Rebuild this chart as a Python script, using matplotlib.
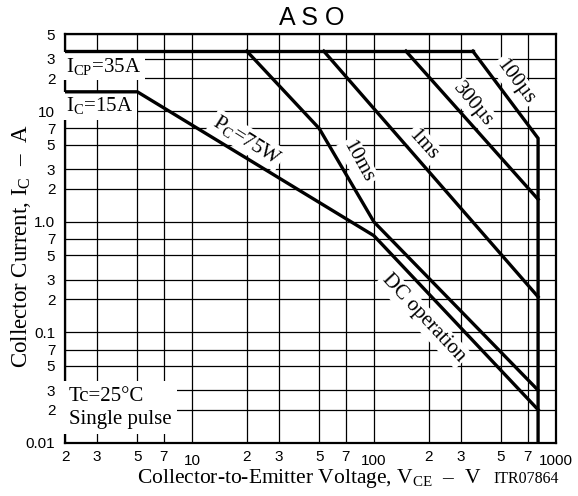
import matplotlib
matplotlib.use('Agg')
import matplotlib.pyplot as plt
from matplotlib.ticker import FixedLocator, NullLocator
from matplotlib.transforms import ScaledTranslation

plt.rcParams['font.family'] = ['Liberation Serif', 'DejaVu Serif']
plt.rcParams['mathtext.fontset'] = 'custom'
plt.rcParams['mathtext.rm'] = 'Liberation Serif'
plt.rcParams['mathtext.it'] = 'Liberation Serif:italic'
plt.rcParams['mathtext.bf'] = 'Liberation Serif:bold'

# ---- data (V in volts, I in amperes) ----
icp_v = [2, 350]
icp_i = [35, 35]
dc_v = [2, 5, 100, 800]
dc_i = [15, 15, 0.75, 0.02]
t100us_v = [350, 800, 800]
t100us_i = [35, 5.7, 0.01]
t300us_v = [150, 800]
t300us_i = [35, 1.6]
t1ms_v = [53, 800]
t1ms_i = [35, 0.21]
t10ms_v = [20, 50, 100, 800]
t10ms_i = [35, 7, 1.0, 0.03]

x_ticks = [2, 3, 5, 7, 10, 20, 30, 50, 70, 100, 200, 300, 500, 700, 1000]
x_labels = ['2', '3', '5', '7', '10', '2', '3', '5', '7', '100', '2', '3', '5', '7', '1000']
y_ticks = [0.01, 0.02, 0.03, 0.05, 0.07, 0.1, 0.2, 0.3, 0.5, 0.7, 1, 2, 3, 5, 7, 10, 20, 30, 50]
y_labels = ['0.01', '2', '3', '5', '7', '0.1', '2', '3', '5', '7', '1.0', '2', '3', '5', '7', '10', '2', '3', '5']

# labels: text, x, y, rotation
curve_labels = [
    (r'$\mathrm{P_C}$=75W', 20, 5.5, -32),
    ('10ms', 82, 3.5, -61),
    ('1ms', 187, 4.95, -48),
    ('300µs', 352, 11.4, -50),
    ('100µs', 597, 18.5, -53),
    ('DC operation', 187, 0.134, -47),
]

fig = plt.figure(figsize=(5.78, 4.96), dpi=100)
ax = fig.add_axes([65/578, 1-443/496, (555.7-65)/578, (443-34)/496])
ax.set_xscale('log')
ax.set_yscale('log')
ax.set_xlim(2, 1000)
ax.set_ylim(0.01, 50)

ax.xaxis.set_major_locator(FixedLocator(x_ticks))
ax.yaxis.set_major_locator(FixedLocator(y_ticks))
ax.xaxis.set_minor_locator(NullLocator())
ax.yaxis.set_minor_locator(NullLocator())
ax.set_xticklabels(x_labels, family='Liberation Sans', fontsize=11)
ax.set_yticklabels(y_labels, family='Liberation Sans', fontsize=11)
ax.tick_params(axis='both', length=0)
ax.tick_params(axis='x', pad=5)
ax.tick_params(axis='y', pad=7)
for lab, t in zip(ax.get_xticklabels(), x_ticks):
    if t in (10, 100, 1000):
        lab.set_transform(lab.get_transform() + ScaledTranslation(0, -3/72, fig.dpi_scale_trans))

ax.grid(True, color='black', lw=0.9, zorder=1)
ax.set_axisbelow(True)
for s in ax.spines.values():
    s.set_linewidth(1.6)

lw = 2.4
for v, i in [(icp_v, icp_i), (dc_v, dc_i), (t100us_v, t100us_i),
             (t300us_v, t300us_i), (t1ms_v, t1ms_i), (t10ms_v, t10ms_i)]:
    ax.plot(v, i, color='black', lw=lw, zorder=5, solid_joinstyle='miter')

box = dict(facecolor='white', edgecolor='none', pad=2.5)
ax.text(2.03, 25.5, r'$\mathrm{I_{CP}}$=35A', fontsize=15, ha='left', va='center', bbox=box, zorder=4)
ax.text(2.03, 11.2, r'$\mathrm{I_C}$=15A', fontsize=15, ha='left', va='center', bbox=box, zorder=4)
for txt, x, y, rot in curve_labels:
    ax.text(x, y, txt, fontsize=15, ha='center', va='center', rotation=rot,
            rotation_mode='anchor', bbox=dict(facecolor='white', edgecolor='none', pad=1.5), zorder=4)

ax.text(2.1, 0.0135, 'Tc=25°C\nSingle pulse', fontsize=15, ha='left', va='bottom',
        linespacing=1.25, bbox=dict(facecolor='white', edgecolor='none', pad=4), zorder=4)

fig.text(312/578, 1-25/496, 'A S O', family='Liberation Sans', fontsize=18,
         ha='center', va='baseline')
fig.text(137/578, 1-483/496, r'Collector-to-Emitter Voltage, $\mathrm{V_{CE}}$  –  V',
         fontsize=15.5, ha='left', va='baseline')
fig.text(493/578, 1-483/496, 'ITR07864', fontsize=11.5, ha='left', va='baseline')
fig.text(21/578, 1-246/496, r'Collector Current, $\mathrm{I_C}$  –  A', fontsize=16.5,
         rotation=90, ha='center', va='center')

fig.savefig('out.png', dpi=100)
